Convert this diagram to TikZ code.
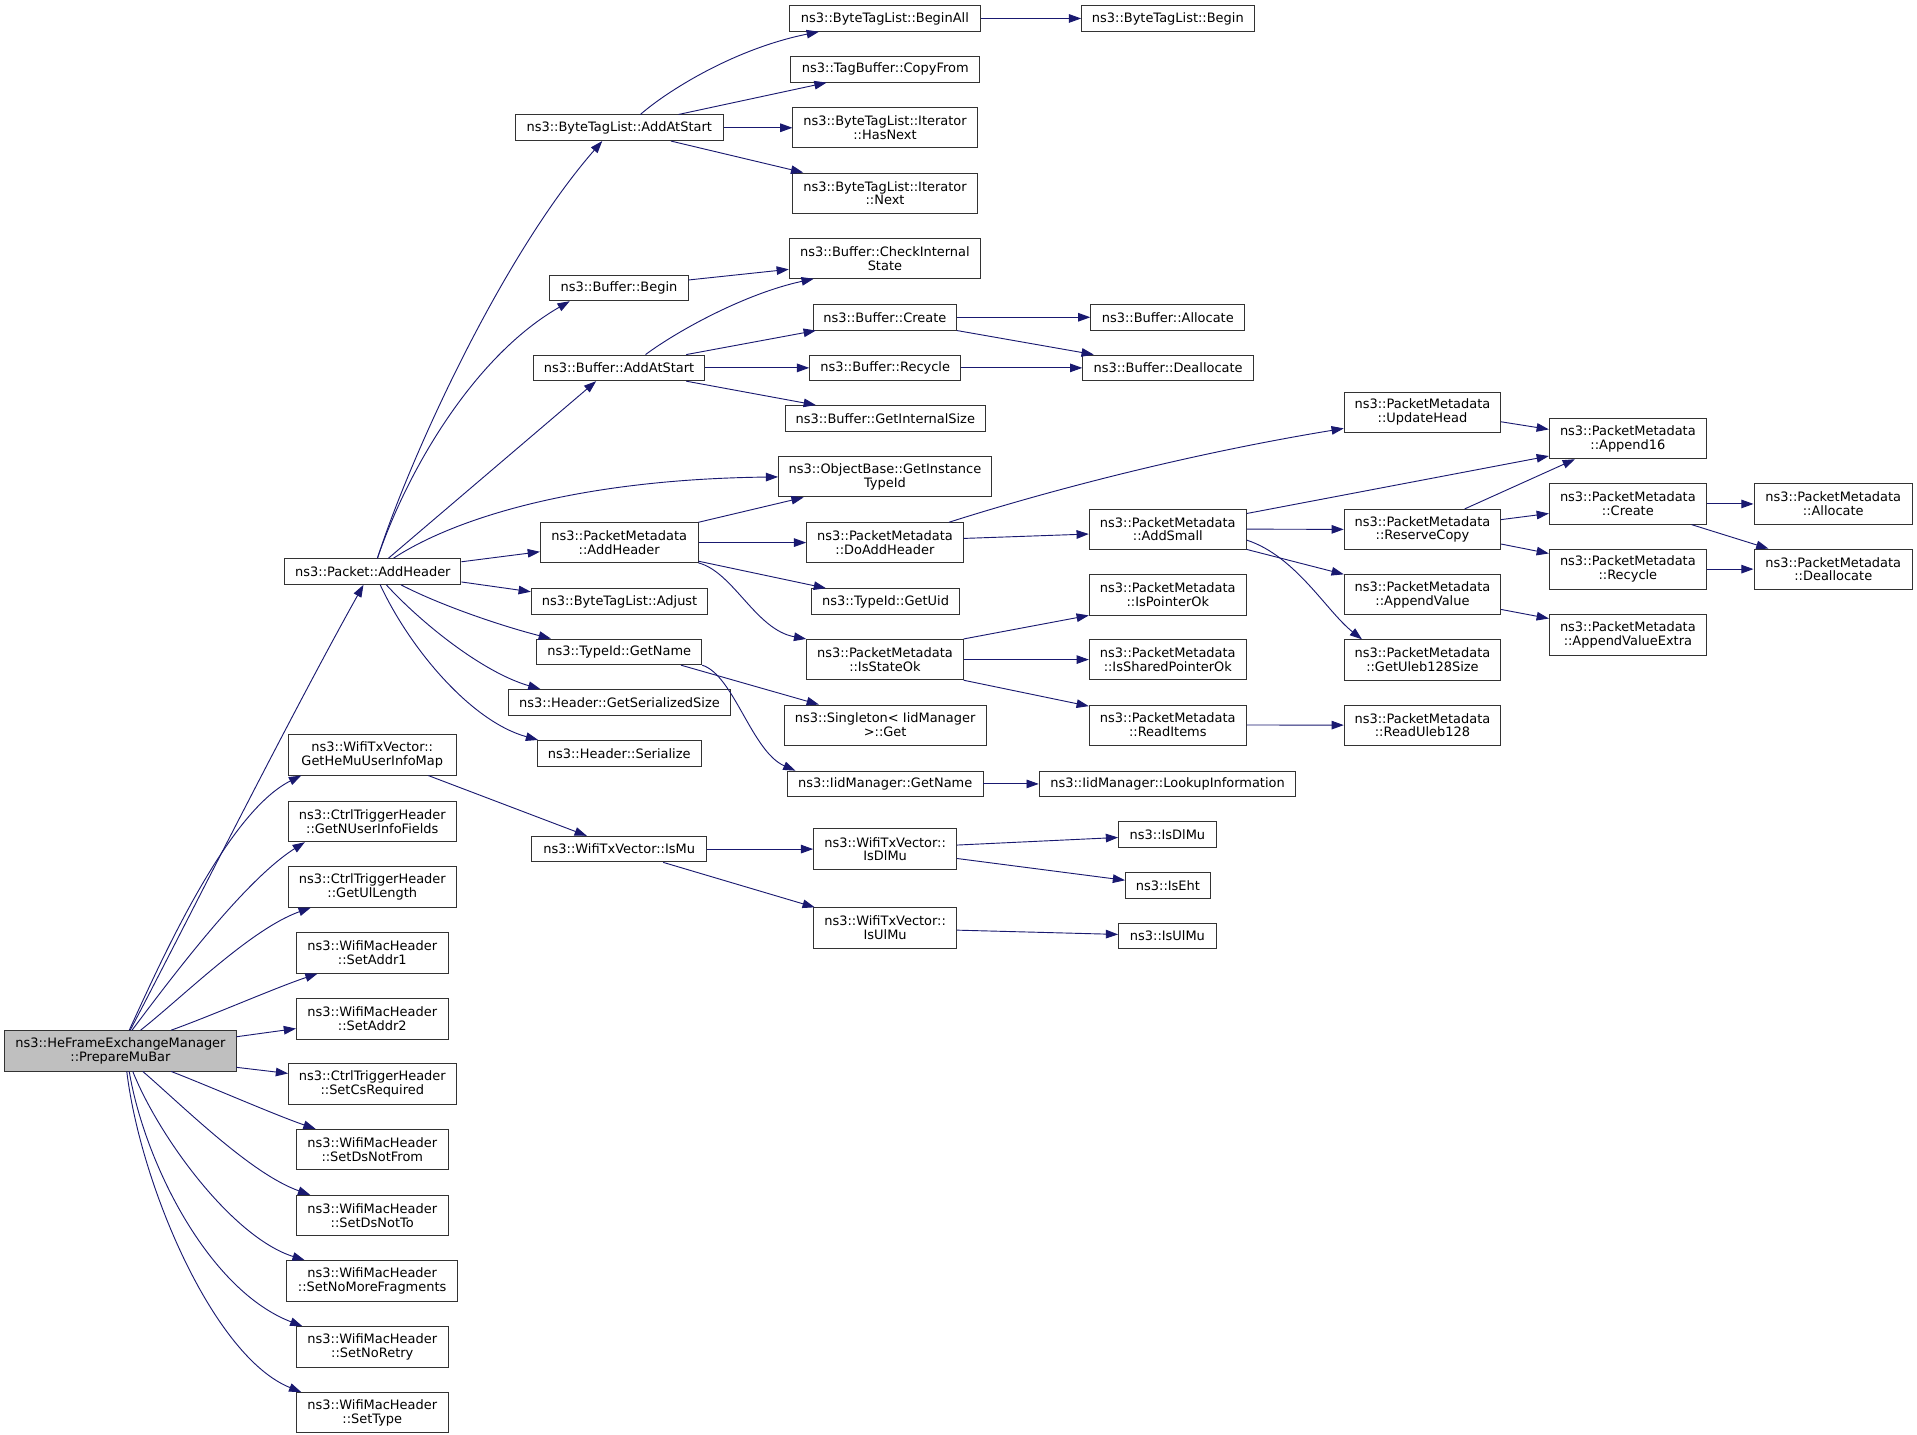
\documentclass[tikz,border=0pt]{standalone}
\usepackage{fontspec}
\setmainfont{DejaVu Sans}
\usetikzlibrary{arrows.meta}
\definecolor{edgeblue}{RGB}{25,25,112}
\definecolor{rootgray}{RGB}{191,191,191}
\newcommand\fsz{\fontsize{10.6}{11.3}\selectfont}
\newcommand\mknode[6]{\node[box,minimum width=#4pt,minimum height=#5pt] (#1) at (#2,#3) {#6};}
\tikzset{
  box/.style={draw=black!80, line width=0.75pt, fill=white, inner sep=0pt, align=center, font=\fsz},
  rootbox/.style={box, fill=rootgray},
  edge/.style={draw=edgeblue, line width=0.75pt, -{Triangle[length=10pt,width=7pt]}}
}
\begin{document}
\begin{tikzpicture}[x=1pt,y=-1pt]
\fill[white] (0,0) rectangle (1568,1173);
\useasboundingbox (0,0) rectangle (1568,1173);
% root
\node[rootbox,minimum width=189pt,minimum height=33pt] (pmb) at (98.5,859.5) {ns3::HeFrameExchangeManager\\::PrepareMuBar};
% column 1
\mknode{pah}{305}{467.5}{144}{21}{ns3::Packet::AddHeader}
\mknode{ghm}{304.5}{617.5}{137}{33}{ns3::WifiTxVector::\\GetHeMuUserInfoMap}
\mknode{gnu}{304.5}{672}{137}{33}{ns3::CtrlTriggerHeader\\::GetNUserInfoFields}
\mknode{gul}{304.5}{725.5}{137}{33}{ns3::CtrlTriggerHeader\\::GetUlLength}
\mknode{sa1}{304.5}{779.5}{124}{33}{ns3::WifiMacHeader\\::SetAddr1}
\mknode{sa2}{304.5}{833.3}{124}{33}{ns3::WifiMacHeader\\::SetAddr2}
\mknode{scs}{304.5}{886.7}{137}{33}{ns3::CtrlTriggerHeader\\::SetCsRequired}
\mknode{sdf}{304.5}{940.2}{124}{33}{ns3::WifiMacHeader\\::SetDsNotFrom}
\mknode{sdt}{304.5}{994.2}{124}{33}{ns3::WifiMacHeader\\::SetDsNotTo}
\mknode{snm}{304.4}{1047.6}{140}{33}{ns3::WifiMacHeader\\::SetNoMoreFragments}
\mknode{snr}{304.5}{1101.6}{124}{33}{ns3::WifiMacHeader\\::SetNoRetry}
\mknode{sty}{304.5}{1155.5}{124}{33}{ns3::WifiMacHeader\\::SetType}
% column 2
\mknode{bta}{506.5}{104.5}{170}{21}{ns3::ByteTagList::AddAtStart}
\mknode{bbg}{506.3}{235.5}{113}{21}{ns3::Buffer::Begin}
\mknode{bas}{506.4}{300.9}{140}{21}{ns3::Buffer::AddAtStart}
\mknode{pmah}{506.5}{443.8}{129}{32.5}{ns3::PacketMetadata\\::AddHeader}
\mknode{bad}{506.8}{492}{144.5}{21}{ns3::ByteTagList::Adjust}
\mknode{tgn}{506.5}{533.2}{135}{21}{ns3::TypeId::GetName}
\mknode{hgs}{506.7}{574.5}{182}{21}{ns3::Header::GetSerializedSize}
\mknode{hse}{506.5}{616.1}{134}{21}{ns3::Header::Serialize}
\mknode{ismu}{506.5}{694.5}{143}{21}{ns3::WifiTxVector::IsMu}
% column 3
\mknode{bal}{723.8}{15.1}{156.4}{21}{ns3::ByteTagList::BeginAll}
\mknode{tcf}{724.1}{56.7}{154.4}{21}{ns3::TagBuffer::CopyFrom}
\mknode{hnx}{723.9}{104.5}{150.7}{33}{ns3::ByteTagList::Iterator\\::HasNext}
\mknode{nxt}{723.9}{158}{150.7}{33}{ns3::ByteTagList::Iterator\\::Next}
\mknode{cis}{723.8}{211.3}{156.4}{32.7}{ns3::Buffer::CheckInternal\\State}
\mknode{bcr}{723.8}{259.5}{117.3}{21}{ns3::Buffer::Create}
\mknode{brc}{724}{300.9}{123.5}{21}{ns3::Buffer::Recycle}
\mknode{bgi}{724.1}{342.2}{163.6}{21}{ns3::Buffer::GetInternalSize}
\mknode{ogt}{723.8}{390.1}{174}{32.7}{ns3::ObjectBase::GetInstance\\TypeId}
\mknode{pdah}{723.8}{443.8}{128}{32.5}{ns3::PacketMetadata\\::DoAddHeader}
\mknode{tgu}{724.3}{492}{120.6}{21}{ns3::TypeId::GetUid}
\mknode{iso}{723.8}{539.5}{128}{33}{ns3::PacketMetadata\\::IsStateOk}
\mknode{sgt}{724}{593}{165.3}{32.7}{ns3::Singleton< IidManager\\ >::Get}
\mknode{ign}{724}{641.2}{160}{21}{ns3::IidManager::GetName}
\mknode{wdl}{724}{694.5}{117}{33}{ns3::WifiTxVector::\\IsDlMu}
\mknode{wul}{724}{759}{117}{33}{ns3::WifiTxVector::\\IsUlMu}
% column 4
\mknode{btb}{955.2}{15.1}{141}{21}{ns3::ByteTagList::Begin}
\mknode{bal2}{955.2}{259.5}{126}{21}{ns3::Buffer::Allocate}
\mknode{bdl}{955.5}{300.9}{139.8}{21}{ns3::Buffer::Deallocate}
\mknode{pas}{955.2}{432.8}{128.5}{32.5}{ns3::PacketMetadata\\::AddSmall}
\mknode{ipo}{955.2}{486.5}{128.5}{33}{ns3::PacketMetadata\\::IsPointerOk}
\mknode{isp}{955.2}{539.5}{128.5}{33}{ns3::PacketMetadata\\::IsSharedPointerOk}
\mknode{pri}{955.2}{593}{128.5}{32.7}{ns3::PacketMetadata\\::ReadItems}
\mknode{ilk}{955}{641.2}{210}{21}{ns3::IidManager::LookupInformation}
\mknode{ndl}{954.9}{682.5}{80}{21}{ns3::IsDlMu}
\mknode{neh}{955.3}{724.3}{69.4}{21}{ns3::IsEht}
\mknode{nul}{954.9}{765.5}{80}{21}{ns3::IsUlMu}
% column 5
\mknode{puh}{1163.5}{337}{128}{32.7}{ns3::PacketMetadata\\::UpdateHead}
\mknode{prc}{1163.5}{433}{128}{32.7}{ns3::PacketMetadata\\::ReserveCopy}
\mknode{pav}{1163.5}{486.5}{128}{32.7}{ns3::PacketMetadata\\::AppendValue}
\mknode{pgu}{1163.5}{539.8}{128}{33}{ns3::PacketMetadata\\::GetUleb128Size}
\mknode{pru}{1163.5}{593.1}{128}{32.7}{ns3::PacketMetadata\\::ReadUleb128}
% column 6
\mknode{pa16}{1331.5}{358.9}{128.5}{32.7}{ns3::PacketMetadata\\::Append16}
\mknode{pcr}{1331.5}{412.2}{128.5}{33}{ns3::PacketMetadata\\::Create}
\mknode{prcy}{1331.5}{465.5}{128.5}{32.8}{ns3::PacketMetadata\\::Recycle}
\mknode{pave}{1331.5}{519.2}{128.5}{33.3}{ns3::PacketMetadata\\::AppendValueExtra}
% column 7
\mknode{pal}{1499.5}{412.2}{129.7}{33}{ns3::PacketMetadata\\::Allocate}
\mknode{pdl}{1499.5}{465.5}{129.7}{32.8}{ns3::PacketMetadata\\::Deallocate}

% edges from root
\draw[edge] ([xshift=8pt]pmb.north) .. controls (150,760) and (235,590) .. ([xshift=-7.7pt]pah.south);
\draw[edge] ([xshift=7.2pt]pmb.north) .. controls (130,790) and (185,665) .. ([xshift=10.7pt]ghm.south west);
\draw[edge] ([xshift=9.5pt]pmb.north) .. controls (140,800) and (200,720) .. ([xshift=13.7pt]gnu.south west);
\draw[edge] ([xshift=16.5pt]pmb.north) .. controls (150,815) and (205,760) .. ([xshift=18.6pt]gul.south west);
\draw[edge] ([xshift=41.5pt]pmb.north) .. controls (175,830) and (225,808) .. ([xshift=17.6pt]sa1.south west);
\draw[edge] ([yshift=11.5pt]pmb.east) -- ([yshift=-8pt]sa2.west);
\draw[edge] ([yshift=-13.5pt]pmb.east) -- ([yshift=8.7pt]scs.west);
\draw[edge] ([xshift=41.5pt]pmb.south) .. controls (175,890) and (225,912) .. ([xshift=16pt]sdf.north west);
\draw[edge] ([xshift=18.3pt]pmb.south) .. controls (150,905) and (205,960) .. ([xshift=11.6pt]sdt.north west);
\draw[edge] ([xshift=10.1pt]pmb.south) .. controls (130,930) and (190,1012) .. ([xshift=15.2pt]snm.north west);
\draw[edge] ([xshift=7.2pt]pmb.south) .. controls (118,950) and (170,1055) .. ([xshift=5.2pt]snr.north west);
\draw[edge] ([xshift=5.2pt]pmb.south) .. controls (115,970) and (175,1110) .. ([xshift=4.3pt]sty.north west);
% edges from Packet::AddHeader
\draw[edge] ([xshift=3.7pt]pah.north) .. controls (335,375) and (410,210) .. ([xshift=-13.9pt]bta.south);
\draw[edge] ([xshift=3.7pt]pah.north) .. controls (335,380) and (390,290) .. ([xshift=-40.3pt]bbg.south);
\draw[edge] ([xshift=12.7pt]pah.north) -- ([xshift=-18.8pt]bas.south);
\draw[edge] ([xshift=16.8pt]pah.north) .. controls (370,425) and (470,392) .. (ogt.west);
\draw[edge] ([yshift=8pt]pah.east) -- ([yshift=-7.5pt]pmah.west);
\draw[edge] ([yshift=-8.5pt]pah.east) -- ([yshift=8pt]bad.west);
\draw[edge] ([xshift=23pt]pah.south) .. controls (360,495) and (410,512) .. ([xshift=12pt]tgn.north west);
\draw[edge] ([xshift=11pt]pah.south) .. controls (345,510) and (395,550) .. ([xshift=26.7pt]hgs.north west);
\draw[edge] ([xshift=6pt]pah.south) .. controls (335,530) and (385,590) .. ([xshift=1pt]hse.north west);
\draw[edge] ([xshift=45.9pt]ghm.south) -- ([xshift=-26.5pt]ismu.north);
% ByteTagList
\draw[edge] ([xshift=17.3pt]bta.north) .. controls (545,75) and (600,40) .. ([xshift=-54pt]bal.south);
\draw[edge] ([xshift=48.5pt]bta.north) -- ([xshift=-48pt]tcf.south);
\draw[edge] (bta.east) -- (hnx.west);
\draw[edge] ([xshift=42.3pt]bta.south) -- ([xshift=8.8pt]nxt.north west);
\draw[edge] (bal.east) -- (btb.west);
% Buffer
\draw[edge] ([yshift=6.5pt]bbg.east) -- ([yshift=-9pt]cis.west);
\draw[edge] ([xshift=21.6pt]bas.north) .. controls (555,270) and (610,240) .. ([xshift=-58.2pt]cis.south);
\draw[edge] ([xshift=54.9pt]bas.north) -- ([xshift=2.5pt]bcr.south west);
\draw[edge] (bas.east) -- (brc.west);
\draw[edge] ([xshift=54.9pt]bas.south) -- ([xshift=25.4pt]bgi.north west);
\draw[edge] (bcr.east) -- (bal2.west);
\draw[edge] (bcr.south east) -- ([xshift=9.4pt]bdl.north west);
\draw[edge] (brc.east) -- (bdl.west);
% PacketMetadata
\draw[edge] (pmah.north east) -- ([xshift=-66.5pt]ogt.south);
\draw[edge] (pmah.east) -- (pdah.west);
\draw[edge] ([yshift=1.4pt]pmah.south east) -- ([xshift=12pt]tgu.north west);
\draw[edge] (pmah.south east) .. controls (600,468) and (618,515) .. (iso.north west);
\draw[edge] ([xshift=52.4pt]pdah.north) .. controls (830,410) and (950,375) .. ([yshift=-13.4pt]puh.west);
\draw[edge] ([yshift=3.4pt]pdah.east) -- ([yshift=-4pt]pas.west);
\draw[edge] ([yshift=12.8pt]pas.east) -- ([yshift=-14.1pt]pa16.west);
\draw[edge] (pas.east) -- (prc.west);
\draw[edge] (pas.south east) -- (pav.north west);
\draw[edge] ([yshift=-9pt]pas.east) .. controls (1060,455) and (1085,500) .. ([xshift=14.9pt]pgu.north west);
\draw[edge] ([yshift=-8pt]puh.east) -- ([yshift=7.7pt]pa16.west);
\draw[edge] ([xshift=34.5pt]prc.north) -- ([xshift=21.3pt]pa16.south west);
\draw[edge] ([yshift=8pt]prc.east) -- ([yshift=-7.8pt]pcr.west);
\draw[edge] ([yshift=-12pt]prc.east) -- ([yshift=12.8pt]prcy.west);
\draw[edge] ([yshift=-12pt]pav.east) -- ([yshift=13.3pt]pave.west);
\draw[edge] (pcr.east) -- (pal.west);
\draw[edge] ([xshift=52pt]pcr.south) -- ([xshift=12.2pt]pdl.north west);
\draw[edge] (prcy.east) -- (pdl.west);
\draw[edge] (iso.north east) -- (ipo.south west);
\draw[edge] (iso.east) -- (isp.west);
\draw[edge] (iso.south east) -- ([yshift=-1.3pt]pri.north west);
\draw[edge] (pri.east) -- (pru.west);
% TypeId / IidManager
\draw[edge] ([xshift=50.5pt]tgn.south) -- ([xshift=-54.2pt]sgt.north);
\draw[edge] (tgn.south east) .. controls (600,552) and (615,615) .. ([xshift=7pt]ign.north west);
\draw[edge] (ign.east) -- (ilk.west);
% WifiTxVector
\draw[edge] (ismu.east) -- (wdl.west);
\draw[edge] ([xshift=36pt]ismu.south) -- ([xshift=1.3pt]wul.north west);
\draw[edge] ([yshift=3.3pt]wdl.east) -- ([yshift=-2.5pt]ndl.west);
\draw[edge] ([yshift=-7.7pt]wdl.east) -- ([yshift=4.3pt]neh.west);
\draw[edge] ([yshift=-1.8pt]wul.east) -- ([yshift=1.2pt]nul.west);
\end{tikzpicture}
\end{document}
